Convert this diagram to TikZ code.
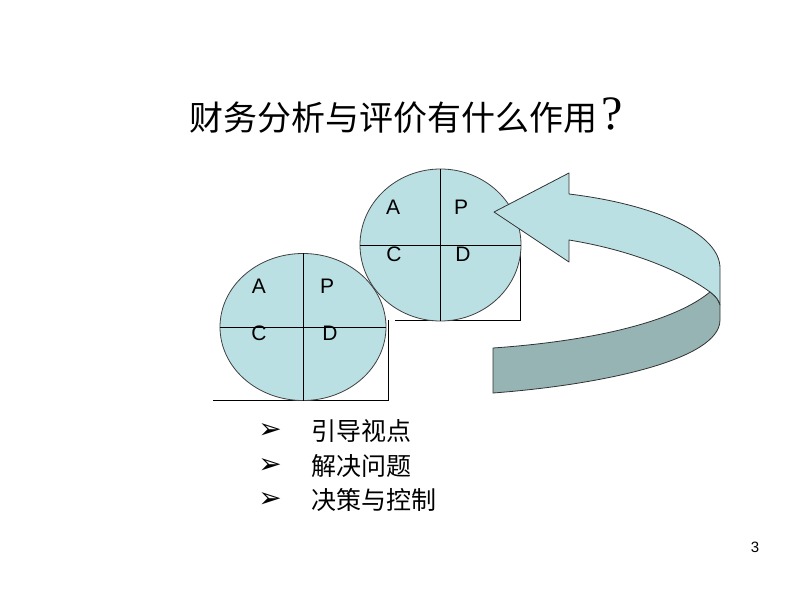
\documentclass[tikz,border=0pt]{standalone}
\usepackage{fontspec}
\setmainfont{Liberation Sans}
\newfontfamily\cjk{Noto Sans CJK SC}
\newfontfamily\symfont{DejaVu Sans}
\newfontfamily\qfont{Liberation Serif}
\usetikzlibrary{shapes.geometric,positioning}
\definecolor{pdcablue}{HTML}{BBE0E3}
\definecolor{pdcadark}{HTML}{96B4B4}
\tikzset{
  pdca/.style={ellipse,draw=black!75,fill=pdcablue,line width=0.8pt,inner sep=0pt},
  quad/.style={font=\fontsize{21}{21}\selectfont},
  item/.style={anchor=west,font=\cjk\fontsize{25}{25}\selectfont},
  bul/.style={font=\symfont\fontsize{28}{28}\selectfont},
}

\begin{document}
\begin{tikzpicture}[x=1pt,y=-1pt]
\useasboundingbox (0,0) rectangle (800,600);

\node[anchor=west,font=\cjk\fontsize{34}{34}\selectfont] (title) at (186,118) {财务分析与评价有什么作用};
\node[anchor=west,font=\qfont\fontsize{48}{48}\selectfont,inner sep=0pt] (qm) at ([yshift=4pt]title.east) {?};

% brackets under the circles
\draw[line width=0.9pt] (213,400) -- (388,400) -- (388,320);
\draw[line width=0.9pt] (395,320) -- (520,320) -- (520,250);

\node[pdca,minimum width=166pt,minimum height=147pt] (c1) at (303,327) {};
\node[pdca,minimum width=161pt,minimum height=152pt] (c2) at (440.5,245) {};

\foreach \c in {c1,c2}
  {
    \draw[line width=0.9pt] (\c.north) -- (\c.south);
    \draw[line width=0.9pt] (\c.west) -- (\c.east);
  }

\node[quad] (a1) at (259,286) {A};
\node[quad] (p1) at (327,286) {P};
\node[quad] (cc1) at (259,333) {C};
\node[quad] (d1) at (330,333) {D};

\node[quad] (a2) at (393,207) {A};
\node[quad] (p2) at (461,207) {P};
\node[quad] (cc2) at (394,254) {C};
\node[quad] (d2) at (463,254) {D};

% the turning arrow
\filldraw[fill=pdcablue,draw=black!80,line width=0.8pt,line join=round]
  (494,212) -- (569,173) -- (569,194)
  .. controls (660,205) and (720,235) .. (720,268) -- (720,305)
  .. controls (717,298) .. (710,292)
  .. controls (680,270) and (630,250) .. (569,240) -- (569,262) -- cycle;
\filldraw[fill=pdcadark,draw=black!80,line width=0.8pt,line join=round]
  (710,292) .. controls (717,298) .. (720,305) -- (720,320)
  .. controls (720,360) and (600,385) .. (493,393) -- (493,348)
  .. controls (580,342) and (670,325) .. (710,292) -- cycle;

\foreach \y/\t [count=\i] in {431/引导视点,466/解决问题,500/决策与控制}
  {
    \node[bul] (b\i) at (270,\y) {➢};
    \node[item] (t\i) at (308,\y) {\t};
  }

\node[font=\fontsize{15}{15}\selectfont] (pg) at (755,547) {3};
\end{tikzpicture}
\end{document}
